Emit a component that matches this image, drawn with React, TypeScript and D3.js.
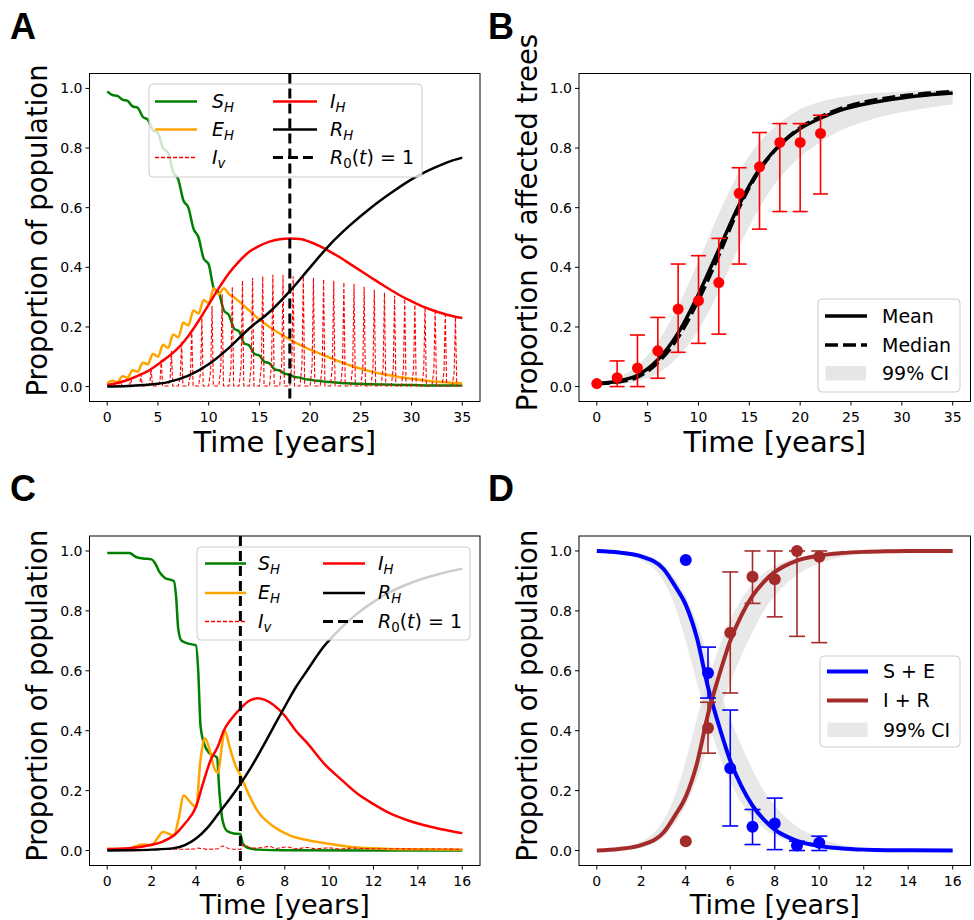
import React from "react";
import * as d3 from "d3";

type P = [number, number];
const FONT = "DejaVu Sans, Verdana, sans-serif";

// ---------- Panel A data ----------
const aSH: P[] = [[0,0.99],[0.5,0.978],[1,0.975],[1.5,0.962],[2,0.958],[2.5,0.94],[3,0.935],[3.5,0.905],[4,0.895],[4.5,0.86],[5,0.85],[5.5,0.8],[6,0.785],[6.5,0.72],[7,0.695],[7.5,0.625],[8,0.6],[8.5,0.53],[9,0.5],[9.5,0.43],[10,0.41],[10.5,0.33],[11,0.315],[11.5,0.255],[12,0.24],[12.5,0.195],[13,0.185],[13.5,0.145],[14,0.138],[14.5,0.11],[15,0.104],[15.5,0.083],[16,0.078],[16.5,0.058],[17,0.054],[17.5,0.043],[18,0.04],[18.5,0.032],[19,0.03],[19.5,0.025],[20,0.023],[20.5,0.02],[21,0.019],[21.5,0.016],[22,0.015],[23,0.012],[24,0.01],[25,0.009],[26,0.008],[27,0.007],[28,0.006],[30,0.005],[32,0.004],[35,0.004]];
const aEH: P[] = [[0,0.01],[0.5,0.02],[1,0.015],[1.5,0.035],[2,0.03],[2.5,0.055],[3,0.05],[3.5,0.08],[4,0.075],[4.5,0.11],[5,0.1],[5.5,0.14],[6,0.13],[6.5,0.175],[7,0.165],[7.5,0.215],[8,0.205],[8.5,0.255],[9,0.245],[9.5,0.29],[10,0.28],[10.5,0.33],[11,0.31],[11.5,0.33],[12,0.31],[12.5,0.3],[13,0.285],[14,0.255],[15,0.225],[16,0.2],[17,0.178],[18,0.158],[19,0.14],[20,0.124],[21,0.11],[22,0.096],[23,0.083],[24,0.07],[25,0.06],[26,0.051],[27,0.043],[28,0.037],[29,0.031],[30,0.026],[31,0.022],[32,0.018],[33,0.015],[34,0.013],[35,0.011]];
const aIH: P[] = [[0,0.005],[1,0.012],[2,0.022],[3,0.036],[4,0.052],[5,0.075],[6,0.1],[7,0.13],[8,0.17],[9,0.22],[10,0.275],[11,0.33],[12,0.38],[13,0.42],[14,0.452],[15,0.472],[16,0.486],[17,0.494],[18,0.497],[19,0.495],[20,0.485],[21,0.47],[22,0.452],[23,0.432],[24,0.41],[25,0.388],[26,0.366],[27,0.344],[28,0.323],[29,0.303],[30,0.286],[31,0.27],[32,0.257],[33,0.246],[34,0.237],[35,0.23]];
const aRH: P[] = [[0,0],[2,0.002],[4,0.006],[6,0.015],[8,0.037],[10,0.075],[12,0.13],[14,0.195],[16,0.25],[18,0.32],[20,0.4],[22,0.478],[24,0.543],[26,0.6],[28,0.65],[30,0.695],[32,0.73],[34,0.758],[35,0.768]];
// yearly peak heights of the vector-infection spikes (years 0..34)
const aIvPeaks: number[] = [0.01,0.015,0.025,0.04,0.06,0.09,0.12,0.15,0.19,0.23,0.27,0.31,0.335,0.355,0.365,0.37,0.375,0.375,0.37,0.37,0.365,0.36,0.355,0.35,0.345,0.335,0.325,0.315,0.305,0.295,0.285,0.27,0.26,0.25,0.235];
const aR0 = 18;

// ---------- Panel B data ----------
const bObsT = [0,2,4,6,8,10,12,14,16,18,20,22];
const bObs = [0.01,0.03,0.062,0.12,0.26,0.288,0.349,0.648,0.737,0.819,0.819,0.849];
const bObsLo = [0.01,0,0,0.028,0.115,0.145,0.176,0.411,0.528,0.587,0.587,0.646];
const bObsHi = [0.01,0.086,0.173,0.232,0.411,0.439,0.497,0.734,0.852,0.882,0.882,0.91];
const bT = [0,2,4,6,8,10,12,14,16,18,20,22,24,26,28,30,32,34,35];
const bMean = [0.01,0.018,0.038,0.09,0.18,0.31,0.46,0.61,0.73,0.81,0.865,0.9,0.927,0.945,0.958,0.968,0.976,0.982,0.985];
const bMedian = [0.01,0.015,0.032,0.08,0.165,0.29,0.44,0.6,0.725,0.81,0.868,0.905,0.933,0.952,0.965,0.975,0.982,0.987,0.99];
const bCILo = [0.005,0.008,0.018,0.045,0.1,0.19,0.32,0.47,0.6,0.7,0.77,0.82,0.86,0.885,0.905,0.92,0.932,0.942,0.946];
const bCIHi = [0.012,0.03,0.07,0.15,0.27,0.42,0.58,0.72,0.82,0.885,0.93,0.955,0.97,0.98,0.986,0.99,0.993,0.995,0.996];

// ---------- Panel C data ----------
const cSH: P[] = [[0,0.993],[1,0.993],[1.3,0.98],[1.6,0.975],[2,0.972],[2.15,0.96],[2.35,0.93],[2.6,0.91],[3,0.9],[3.1,0.85],[3.2,0.74],[3.35,0.7],[3.7,0.69],[4,0.685],[4.1,0.6],[4.2,0.42],[4.35,0.36],[4.6,0.325],[4.95,0.31],[5.05,0.2],[5.2,0.1],[5.4,0.065],[5.7,0.057],[6,0.055],[6.1,0.025],[6.3,0.01],[6.8,0.003],[8,0.001],[16,0]];
const cEH: P[] = [[0,0.005],[1,0.007],[1.3,0.015],[1.6,0.02],[2,0.018],[2.3,0.045],[2.5,0.062],[2.8,0.055],[3,0.05],[3.2,0.1],[3.45,0.184],[3.7,0.165],[4,0.145],[4.2,0.3],[4.4,0.375],[4.6,0.34],[4.85,0.27],[5,0.26],[5.15,0.34],[5.3,0.4],[5.5,0.35],[5.8,0.28],[6,0.252],[6.3,0.2],[6.75,0.135],[7.5,0.08],[8.25,0.05],[9,0.035],[9.75,0.025],[11,0.012],[12.5,0.006],[14,0.004],[16,0.003]];
const cIv: P[] = [[0,0.002],[1,0.002],[2,0.003],[3,0.004],[3.9,0.005],[4.1,0.008],[4.5,0.004],[5,0.006],[5.2,0.015],[5.5,0.006],[6,0.004],[6.15,0.02],[6.5,0.008],[7,0.01],[7.3,0.014],[7.6,0.007],[8.1,0.012],[8.5,0.006],[9,0.01],[9.4,0.006],[10,0.009],[10.5,0.005],[11,0.008],[12,0.006],[13,0.006],[14,0.005],[15,0.005],[16,0.004]];
const cIH: P[] = [[0,0.005],[1,0.008],[2,0.019],[2.5,0.03],[3,0.05],[3.5,0.09],[4,0.146],[4.3,0.22],[4.65,0.3],[5,0.35],[5.25,0.4],[5.6,0.44],[6,0.474],[6.4,0.5],[6.75,0.508],[7.1,0.503],[7.5,0.486],[8,0.45],[8.5,0.4],[9,0.36],[9.75,0.292],[10.5,0.24],[11.25,0.191],[12,0.155],[12.75,0.124],[13.5,0.102],[14.25,0.085],[15,0.072],[16,0.058]];
const cRH: P[] = [[0,0],[1,0.001],[2,0.003],[3,0.008],[3.5,0.018],[4,0.04],[4.5,0.075],[5,0.122],[5.5,0.17],[6,0.222],[6.5,0.28],[7,0.345],[7.5,0.413],[8,0.48],[8.5,0.545],[9,0.6],[9.75,0.68],[10.5,0.74],[11.25,0.79],[12,0.83],[12.75,0.863],[13.5,0.888],[14.25,0.908],[15,0.924],[16,0.941]];
const cR0 = 6;

// ---------- Panel D data ----------
const dT = [0,1,2,3,3.5,4,4.5,5,5.5,6,6.5,7,7.5,8,8.5,9,10,11,12,13,14,16];
const dSE = [1,0.995,0.982,0.94,0.885,0.82,0.71,0.545,0.415,0.3,0.215,0.15,0.104,0.07,0.048,0.032,0.015,0.007,0.003,0.001,0.0005,0];
const dIR = [0,0.005,0.018,0.06,0.115,0.18,0.29,0.455,0.585,0.7,0.785,0.85,0.896,0.93,0.952,0.968,0.985,0.993,0.997,0.999,1,1];
const dSELo = [1,0.99,0.97,0.9,0.82,0.7,0.56,0.43,0.32,0.23,0.16,0.11,0.075,0.05,0.035,0.022,0.01,0.004,0.001,0,0,0];
const dSEHi = [1,0.998,0.99,0.955,0.91,0.85,0.76,0.65,0.54,0.44,0.35,0.27,0.2,0.15,0.11,0.08,0.042,0.02,0.01,0.005,0.002,0.001];
const dIRLo = [0,0.002,0.01,0.045,0.09,0.15,0.24,0.35,0.46,0.56,0.65,0.73,0.8,0.85,0.89,0.92,0.958,0.98,0.99,0.995,0.998,1];
const dIRHi = [0,0.01,0.03,0.1,0.18,0.3,0.44,0.57,0.68,0.77,0.84,0.89,0.925,0.95,0.967,0.977,0.99,0.996,0.998,1,1,1];
const dObsT = [4,5,6,7,8,9,10];
const dObsSE = [0.97,0.593,0.275,0.079,0.09,0.017,0.026];
const dObsSELo = [0.97,0.509,0.082,0.02,0.003,0,0];
const dObsSEHi = [0.97,0.679,0.469,0.137,0.175,0.031,0.048];
const dObsIR = [0.031,0.409,0.727,0.914,0.906,1.0,0.981];
const dObsIRLo = [0.031,0.325,0.526,0.825,0.78,0.715,0.694];
const dObsIRHi = [0.031,0.495,0.93,1.0,1.0,1.0,1.0];

const yTicks = [0, 0.2, 0.4, 0.6, 0.8, 1.0];
const xTicksLong = [0, 5, 10, 15, 20, 25, 30, 35];
const xTicksShort = [0, 2, 4, 6, 8, 10, 12, 14, 16];

const GREEN = "#008000", ORANGE = "#ffa500", RED = "#ff0000", BLUE = "#0000ff", BROWN = "#a52a2a";
const CI_FILL = "#d9d9d9";

interface Box { x0: number; x1: number; y0: number; y1: number; }

function makeScales(box: Box, xmax: number) {
  const pad = xmax * 0.05;
  const x = d3.scaleLinear().domain([-pad, xmax + pad]).range([box.x0, box.x1]);
  const y = d3.scaleLinear().domain([-0.05, 1.05]).range([box.y1, box.y0]);
  return { x, y };
}

function Axes({ box, x, y, xTicks, ylabel, letter, letterX, yShift, xlabOff, xlabFs }: any) {
  const cy = (box.y0 + box.y1) / 2 + yShift;
  const cx = (box.x0 + box.x1) / 2;
  const lx = box.x0 - 42.5;
  return (
    <g fontFamily={FONT}>
      <rect x={box.x0} y={box.y0} width={box.x1 - box.x0} height={box.y1 - box.y0} fill="none" stroke="#000" strokeWidth={1} />
      {yTicks.map((t) => (
        <g key={"y" + t}>
          <line x1={box.x0 - 4} x2={box.x0} y1={y(t)} y2={y(t)} stroke="#000" strokeWidth={1} />
          <text x={box.x0 - 7} y={y(t) + 5} fontSize={14} textAnchor="end" fill="#000">{t.toFixed(1)}</text>
        </g>
      ))}
      {xTicks.map((t: number) => (
        <g key={"x" + t}>
          <line x1={x(t)} x2={x(t)} y1={box.y1} y2={box.y1 + 4} stroke="#000" strokeWidth={1} />
          <text x={x(t)} y={box.y1 + 20.5} fontSize={14} textAnchor="middle" fill="#000">{t}</text>
        </g>
      ))}
      <text x={cx} y={box.y1 + xlabOff} fontSize={xlabFs} textAnchor="middle" fill="#000">Time [years]</text>
      <text x={lx} y={cy} fontSize={27.5} textAnchor="middle" fill="#000" transform={`rotate(-90, ${lx}, ${cy})`}>{ylabel}</text>
      <text x={letterX} y={box.y0 - 35} fontSize={36} fontWeight="bold" fontFamily="Liberation Sans, Arial, sans-serif" fill="#000">{letter}</text>
    </g>
  );
}

function lineGen(x: any, y: any, curve: any = d3.curveMonotoneX) {
  return d3.line<P>().x((d) => x(d[0])).y((d) => y(d[1])).curve(curve);
}
function zip(t: number[], v: number[]): P[] { return t.map((ti, i) => [ti, v[i]]); }

function MathLabel({ kind, fs }: { kind: string; fs: number }) {
  const sub = fs * 0.7;
  const dy = fs * 0.22;
  if (kind === "R0") {
    return (
      <>
        <tspan fontStyle="italic">R</tspan>
        <tspan fontSize={sub} dy={dy}>0</tspan>
        <tspan dy={-dy}>(</tspan>
        <tspan fontStyle="italic">t</tspan>
        <tspan>) = 1</tspan>
      </>
    );
  }
  const main = kind[0];
  const s = kind.slice(1);
  return (
    <>
      <tspan fontStyle="italic">{main}</tspan>
      <tspan fontStyle="italic" fontSize={sub} dy={dy}>{s}</tspan>
    </>
  );
}

function SEIRLegend({ lx0, lx1, ly0, ly1, rows, c1h, c1t, c2h, c2t }: any) {
  const fs = 19;
  const items = [
    { col: 0, row: 0, kind: "SH", color: GREEN, dash: undefined, w: 2.5 },
    { col: 0, row: 1, kind: "EH", color: ORANGE, dash: undefined, w: 2.5 },
    { col: 0, row: 2, kind: "Iv", color: RED, dash: "4,2", w: 1.5 },
    { col: 1, row: 0, kind: "IH", color: RED, dash: undefined, w: 2.5 },
    { col: 1, row: 1, kind: "RH", color: "#000", dash: undefined, w: 2.5 },
    { col: 1, row: 2, kind: "R0", color: "#000", dash: "10,5", w: 3 },
  ];
  return (
    <g fontFamily={FONT}>
      <rect x={lx0} y={ly0} width={lx1 - lx0} height={ly1 - ly0} rx={4} fill="#fff" fillOpacity={0.8} stroke="#cccccc" strokeWidth={1} />
      {items.map((it, i) => {
        const h = it.col === 0 ? c1h : c2h;
        const tx = it.col === 0 ? c1t : c2t;
        const ry = rows[it.row];
        return (
          <g key={i}>
            <line x1={h[0]} x2={h[1]} y1={ry} y2={ry} stroke={it.color} strokeWidth={it.w} strokeDasharray={it.dash} />
            <text x={tx} y={ry + 6} fontSize={fs} fill="#000"><MathLabel kind={it.kind} fs={fs} /></text>
          </g>
        );
      })}
    </g>
  );
}

function PanelA() {
  const box: Box = { x0: 89.5, x1: 480, y0: 73.5, y1: 401.5 };
  const { x, y } = makeScales(box, 35);
  const lg = lineGen(x, y);
  const spikes: P[] = [];
  aIvPeaks.forEach((p, k) => {
    spikes.push([k, 0.002], [k + 0.2, p * 0.2], [k + 0.33, p], [k + 0.46, 0.002]);
  });
  spikes.push([35, 0.002]);
  const spikeLine = lineGen(x, y, d3.curveLinear);
  return (
    <g>
      <path d={lg(aSH)!} fill="none" stroke={GREEN} strokeWidth={2.5} />
      <path d={lg(aEH)!} fill="none" stroke={ORANGE} strokeWidth={2.5} />
      <path d={spikeLine(spikes)!} fill="none" stroke={RED} strokeWidth={1.1} strokeDasharray="4,2" />
      <path d={lg(aIH)!} fill="none" stroke={RED} strokeWidth={2.5} />
      <path d={lg(aRH)!} fill="none" stroke="#000" strokeWidth={2.5} />
      <SEIRLegend lx0={149} lx1={422} ly0={84} ly1={177} rows={[101.5, 129.5, 157.5]} c1h={[155, 197]} c1t={212} c2h={[273, 317]} c2t={330} />
      <line x1={x(aR0)} x2={x(aR0)} y1={box.y0} y2={box.y1} stroke="#000" strokeWidth={3} strokeDasharray="10,5" />
      <Axes box={box} x={x} y={y} xTicks={xTicksLong} ylabel="Proportion of population" letter="A" letterX={10} yShift={-7} xlabOff={50} xlabFs={29} />
    </g>
  );
}

function PanelC() {
  const box: Box = { x0: 89.5, x1: 480, y0: 536, y1: 865.5 };
  const { x, y } = makeScales(box, 16);
  const lg = lineGen(x, y);
  return (
    <g>
      <path d={lg(cSH)!} fill="none" stroke={GREEN} strokeWidth={2.5} />
      <path d={lg(cEH)!} fill="none" stroke={ORANGE} strokeWidth={2.5} />
      <path d={lg(cIv)!} fill="none" stroke={RED} strokeWidth={1.1} strokeDasharray="4,2" />
      <path d={lg(cIH)!} fill="none" stroke={RED} strokeWidth={2.5} />
      <path d={lg(cRH)!} fill="none" stroke="#000" strokeWidth={2.5} />
      <SEIRLegend lx0={197} lx1={470} ly0={547} ly1={640} rows={[563.5, 593, 621.5]} c1h={[205, 246]} c1t={258} c2h={[323, 365]} c2t={378} />
      <line x1={x(cR0)} x2={x(cR0)} y1={box.y0} y2={box.y1} stroke="#000" strokeWidth={3} strokeDasharray="10,5" />
      <Axes box={box} x={x} y={y} xTicks={xTicksShort} ylabel="Proportion of population" letter="C" letterX={10} yShift={-5} xlabOff={48} xlabFs={27} />
    </g>
  );
}

function ErrorBars({ x, y, t, v, lo, hi, color, r, cap, showBar }: any) {
  return (
    <g>
      {t.map((ti: number, i: number) => (
        <g key={i}>
          {showBar(i) && (
            <g stroke={color} strokeWidth={1.6}>
              <line x1={x(ti)} x2={x(ti)} y1={y(lo[i])} y2={y(hi[i])} />
              <line x1={x(ti) - cap} x2={x(ti) + cap} y1={y(lo[i])} y2={y(lo[i])} />
              <line x1={x(ti) - cap} x2={x(ti) + cap} y1={y(hi[i])} y2={y(hi[i])} />
            </g>
          )}
          <circle cx={x(ti)} cy={y(v[i])} r={r} fill={color} />
        </g>
      ))}
    </g>
  );
}

function PanelB() {
  const box: Box = { x0: 579, x1: 970.5, y0: 73.5, y1: 401.5 };
  const { x, y } = makeScales(box, 35);
  const lg = lineGen(x, y);
  const area = d3.area<number>().x((_, i) => x(bT[i])).y0((_, i) => y(bCILo[i])).y1((d) => y(d)).curve(d3.curveMonotoneX);
  const fs = 19;
  return (
    <g>
      <path d={area(bCIHi)!} fill={CI_FILL} fillOpacity={0.65} />
      <path d={lg(zip(bT, bMean))!} fill="none" stroke="#000" strokeWidth={3.5} />
      <path d={lg(zip(bT, bMedian))!} fill="none" stroke="#000" strokeWidth={3.5} strokeDasharray="13,5" />
      <ErrorBars x={x} y={y} t={bObsT} v={bObs} lo={bObsLo} hi={bObsHi} color={RED} r={5.5} cap={7.5} showBar={(i: number) => i > 0} />
      <g fontFamily={FONT}>
        <rect x={818} y={299} width={142} height={93} rx={4} fill="#fff" fillOpacity={0.8} stroke="#cccccc" />
        <line x1={825} x2={867} y1={316} y2={316} stroke="#000" strokeWidth={3.5} />
        <text x={882} y={322.5} fontSize={fs}>Mean</text>
        <line x1={825} x2={867} y1={345} y2={345} stroke="#000" strokeWidth={3.5} strokeDasharray="13,5" />
        <text x={882} y={351.5} fontSize={fs}>Median</text>
        <rect x={825.5} y={366} width={40.5} height={14.5} fill={CI_FILL} fillOpacity={0.65} />
        <text x={882} y={380} fontSize={fs}>99% CI</text>
      </g>
      <Axes box={box} x={x} y={y} xTicks={xTicksLong} ylabel="Proportion of affected trees" letter="B" letterX={488} yShift={-15} xlabOff={50} xlabFs={29} />
    </g>
  );
}

function PanelD() {
  const box: Box = { x0: 579, x1: 970.5, y0: 536, y1: 865.5 };
  const { x, y } = makeScales(box, 16);
  const lg = lineGen(x, y);
  const band = (lo: number[], hi: number[]) =>
    d3.area<number>().x((_, i) => x(dT[i])).y0((_, i) => y(lo[i])).y1((d) => y(d)).curve(d3.curveMonotoneX)(hi)!;
  const fs = 19;
  return (
    <g>
      <path d={band(dSELo, dSEHi)} fill={CI_FILL} fillOpacity={0.6} />
      <path d={band(dIRLo, dIRHi)} fill={CI_FILL} fillOpacity={0.6} />
      <path d={lg(zip(dT, dSE))!} fill="none" stroke={BLUE} strokeWidth={4} />
      <path d={lg(zip(dT, dIR))!} fill="none" stroke={BROWN} strokeWidth={4} />
      <ErrorBars x={x} y={y} t={dObsT} v={dObsSE} lo={dObsSELo} hi={dObsSEHi} color={BLUE} r={6} cap={8} showBar={(i: number) => i > 0} />
      <ErrorBars x={x} y={y} t={dObsT} v={dObsIR} lo={dObsIRLo} hi={dObsIRHi} color={BROWN} r={6} cap={8} showBar={(i: number) => i > 0} />
      <g fontFamily={FONT}>
        <rect x={820} y={656} width={140} height={91} rx={4} fill="#fff" fillOpacity={0.8} stroke="#cccccc" />
        <line x1={827} x2={868} y1={671.5} y2={671.5} stroke={BLUE} strokeWidth={4} />
        <text x={883} y={678} fontSize={fs}>S + E</text>
        <line x1={827} x2={868} y1={700.5} y2={700.5} stroke={BROWN} strokeWidth={4} />
        <text x={883} y={707} fontSize={fs}>I + R</text>
        <rect x={827.5} y={722.5} width={40} height={14.5} fill={CI_FILL} fillOpacity={0.6} />
        <text x={883} y={736.5} fontSize={fs}>99% CI</text>
      </g>
      <Axes box={box} x={x} y={y} xTicks={xTicksShort} ylabel="Proportion of population" letter="D" letterX={488} yShift={-5} xlabOff={48} xlabFs={27} />
    </g>
  );
}

export default function App() {
  return (
    <svg width={974} height={920} style={{ position: "absolute", left: 0, top: 0, background: "#fff" }} xmlns="http://www.w3.org/2000/svg">
      <rect width={974} height={920} fill="#fff" />
      <PanelA />
      <PanelB />
      <PanelC />
      <PanelD />
    </svg>
  );
}
